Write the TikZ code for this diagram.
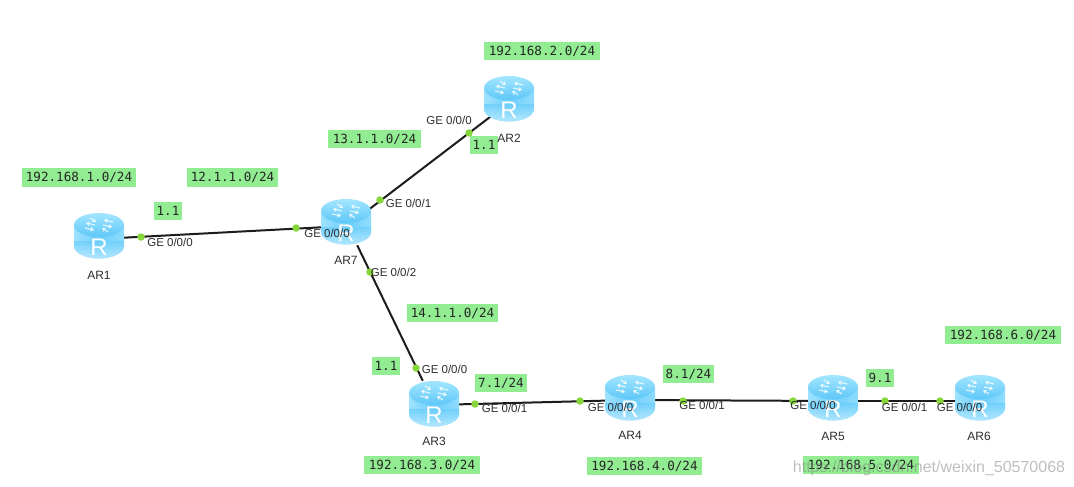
\documentclass[tikz,border=0pt]{standalone}
\usepackage{fontspec}
\setmainfont{Liberation Sans}
\newfontfamily\monolabel{DejaVu Sans Mono}
\usetikzlibrary{arrows.meta,calc}
\definecolor{netgreen}{HTML}{92EC92}
\definecolor{portgreen}{HTML}{86D63C}
\definecolor{linkblack}{HTML}{1C1C1C}
\definecolor{textgrey}{HTML}{2E2E2E}
\definecolor{bodyedge}{HTML}{9FE2FF}
\definecolor{bodymid}{HTML}{6CCEFB}
\definecolor{toplo}{HTML}{5DC7F8}
\definecolor{tophi}{HTML}{A4E6FF}
\tikzset{
  routerbox/.style={inner sep=0pt,minimum width=50pt,minimum height=46pt},
  link/.style={draw=linkblack,line width=2pt},
  portdot/.style={circle,fill=portgreen,inner sep=0pt,minimum size=7.5pt},
  portlabel/.style={font=\fontsize{11.5}{12}\selectfont,text=textgrey,inner sep=0pt},
  namelabel/.style={font=\fontsize{12}{12}\selectfont,text=textgrey,inner sep=0pt},
  netlabel/.style={fill=netgreen,font=\monolabel\fontsize{12.6}{13}\selectfont,text=black!85,inner sep=0pt,minimum height=18.5pt},
  iconarrow/.style={white,opacity=.75,line width=1.2pt,-{Stealth[length=3.6pt,width=4.6pt]}}
}
\newcommand{\routericon}[1]{%
  \begin{scope}[shift={(#1)}]
    \shade[left color=bodyedge,right color=bodyedge!70!bodymid,middle color=bodymid]
      (-25,-11) -- (-25,10) arc[start angle=180,end angle=0,x radius=25,y radius=12.5] -- (25,-11) -- cycle;
    \begin{scope}
      \clip (-25,5) -- (-25,10) arc[start angle=180,end angle=0,x radius=25,y radius=12.5] -- (25,5) -- cycle;
      \shade[top color=bodymid,bottom color=bodyedge!60!white,opacity=.8] (-25,5) rectangle (25,23);
    \end{scope}
    \shade[top color=tophi,bottom color=toplo] (0,-11) ellipse[x radius=25,y radius=12];
    \draw[iconarrow] (-14,-8) -- (-5,-6);
    \draw[iconarrow] (-4,-11) -- (-13,-13);
    \draw[iconarrow] (14,-14) -- (5,-16);
    \draw[iconarrow] (4,-11) -- (13,-9);
    \draw[iconarrow] (-9,-18) -- (-3,-14);
    \draw[iconarrow] (9,-4) -- (3,-8);
    \node[text=white,font=\fontsize{24}{24}\selectfont,inner sep=0pt] at (0,11) {R};
  \end{scope}}
\begin{document}
\begin{tikzpicture}[x=1pt,y=-1pt]
  \useasboundingbox (0,0) rectangle (1074,487);
  \fill[white] (0,0) rectangle (1074,487);

  \node[routerbox] (AR1) at (99,236) {};
  \node[routerbox] (AR2) at (509,99) {};
  \node[routerbox] (AR3) at (434,404) {};
  \node[routerbox] (AR4) at (630,398) {};
  \node[routerbox] (AR5) at (833,398) {};
  \node[routerbox] (AR6) at (980,398) {};
  \node[routerbox] (AR7) at (346,222) {};

  \draw[link] ([yshift=-3pt]AR1.center) -- ([yshift=-4pt]AR7.center);
  \draw[link] ([yshift=-5pt]AR7.center) -- ([yshift=-3.5pt]AR2.center);
  \draw[link] (AR7) -- (AR3);
  \draw[link] ([yshift=-1pt]AR3.center) -- ([yshift=-2pt]AR4.center);
  \draw[link] ([yshift=-2pt]AR4.center) -- ([yshift=-3pt]AR5.center);
  \draw[link] ([yshift=-3pt]AR5.center) -- ([yshift=-3pt]AR6.center);

  \foreach \r in {AR1,AR2,AR3,AR4,AR5,AR6,AR7}{\routericon{\r}}

  \foreach \x/\y in {141/237,296/228,380/200,370/272,469/133,416/368,475/404,580/401,683/401,793/401,885/401,940/401}
    {\node[portdot] at (\x,\y) {};}

  \node[netlabel,minimum width=116pt] at (542,51) {192.168.2.0/24};
  \node[netlabel,minimum width=93pt] at (374.5,139) {13.1.1.0/24};
  \node[netlabel,minimum width=114pt] at (79,177.5) {192.168.1.0/24};
  \node[netlabel,minimum width=91pt] at (232.5,177.5) {12.1.1.0/24};
  \node[netlabel,minimum width=28pt] at (168,211) {1.1};
  \node[netlabel,minimum width=28pt] at (484,145) {1.1};
  \node[netlabel,minimum width=91pt] at (452.5,313) {14.1.1.0/24};
  \node[netlabel,minimum width=28pt] at (386,366) {1.1};
  \node[netlabel,minimum width=52pt] at (501,383) {7.1/24};
  \node[netlabel,minimum width=51pt] at (688.5,374) {8.1/24};
  \node[netlabel,minimum width=28pt] at (880,378) {9.1};
  \node[netlabel,minimum width=116pt] at (1003,335) {192.168.6.0/24};
  \node[netlabel,minimum width=116pt] at (422,465) {192.168.3.0/24};
  \node[netlabel,minimum width=115pt] at (644.5,466) {192.168.4.0/24};
  \node[netlabel,minimum width=116pt] at (861,465) {192.168.5.0/24};

  \node[portlabel] at (170,242) {GE 0/0/0};
  \node[portlabel] at (327,233) {GE 0/0/0};
  \node[portlabel] at (408.5,203) {GE 0/0/1};
  \node[portlabel] at (393.5,272) {GE 0/0/2};
  \node[portlabel] at (449,120) {GE 0/0/0};
  \node[portlabel] at (444.5,369) {GE 0/0/0};
  \node[portlabel] at (504.5,408) {GE 0/0/1};
  \node[portlabel] at (610.5,407) {GE 0/0/0};
  \node[portlabel] at (702,405) {GE 0/0/1};
  \node[portlabel] at (813,405) {GE 0/0/0};
  \node[portlabel] at (904.5,407) {GE 0/0/1};
  \node[portlabel] at (959.5,407) {GE 0/0/0};

  \node[namelabel] at (99,275) {AR1};
  \node[namelabel] at (509,138) {AR2};
  \node[namelabel] at (434,441) {AR3};
  \node[namelabel] at (630,435) {AR4};
  \node[namelabel] at (833,436) {AR5};
  \node[namelabel] at (979,436) {AR6};
  \node[namelabel] at (346,260) {AR7};

  \node[font=\fontsize{16}{16}\selectfont,text=gray,opacity=.5,inner sep=0pt] at (929,468) {https://blog.csdn.net/weixin\_50570068};
\end{tikzpicture}
\end{document}
